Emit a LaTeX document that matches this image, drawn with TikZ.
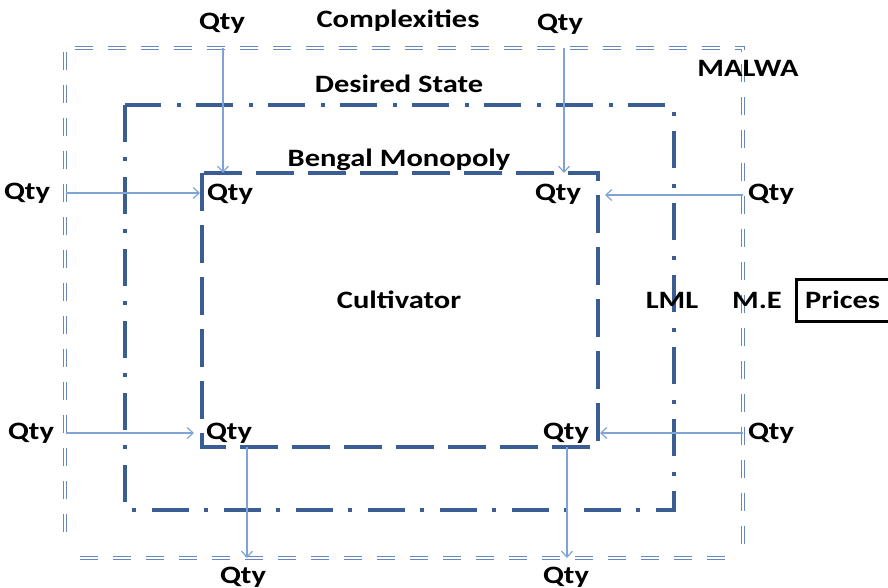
\documentclass[tikz,border=0pt]{standalone}
\usepackage{fontspec}
\setmainfont[FakeStretch=1.22]{Carlito}
\usetikzlibrary{arrows.meta}
\definecolor{darkb}{HTML}{3A5E94}
\definecolor{lightb}{HTML}{7FA3D6}
\definecolor{outerb}{HTML}{6788BE}
\tikzset{
  lbl/.style={font=\fontsize{25}{28}\selectfont\bfseries, inner sep=0pt},
  outerline/.style={draw=outerb, line width=1.3pt},
  midbox/.style={draw=darkb, line width=3.8pt, dash pattern=on 37pt off 15pt on 4pt off 16pt},
  innerbox/.style={draw=darkb, line width=3.8pt, dash pattern=on 38pt off 14pt},
  flow/.style={draw=lightb, line width=1.2pt, -{Straight Barb[length=6pt,width=11pt,line width=1.2pt]}},
  pricebox/.style={draw=black, line width=3pt, minimum width=100pt, minimum height=42pt, anchor=west}
}
\begin{document}
\begin{tikzpicture}[x=1pt,y=-1pt]
\useasboundingbox (0,0) rectangle (888,588);
% outer double dashed box (MALWA), dashes drawn one by one
\foreach \x in {75,108,...,720} {
  \draw[outerline] (\x,46.4) -- ++(18,0);
  \draw[outerline] (\x,49.6) -- ++(18,0);
}
\draw[outerline] (735,46.4) -- (744.6,46.4) -- (744.6,50);
\draw[outerline] (735,49.6) -- (741.4,49.6) -- (741.4,52);
\foreach \x in {80,113,...,720} {
  \draw[outerline] (\x,556.4) -- ++(18,0);
  \draw[outerline] (\x,559.6) -- ++(18,0);
}
\foreach \y in {52,85,...,540} {
  \draw[outerline] (63.4,\y) -- ++(0,18);
  \draw[outerline] (66.6,\y) -- ++(0,18);
}
\foreach \y in {64,97,...,545} {
  \draw[outerline] (741.4,\y) -- ++(0,18);
  \draw[outerline] (744.6,\y) -- ++(0,18);
}
% middle and inner boxes
\draw[midbox] (125,105) rectangle (674,510);
\draw[innerbox] (202,173) rectangle (598,447);
% coordinates on box edges
\coordinate (oT1) at (223,48);
\coordinate (oT2) at (564,48);
\coordinate (iT1) at (223,173);
\coordinate (iT2) at (564,173);
\coordinate (oL1) at (66,193);
\coordinate (iL1) at (200,193);
\coordinate (oR1) at (743,195);
\coordinate (iR1) at (605,195);
\coordinate (oL2) at (66,433);
\coordinate (iL2) at (194,433);
\coordinate (oR2) at (743,433);
\coordinate (iR2) at (600,433);
\coordinate (iB1) at (247,447);
\coordinate (oB1) at (247,558);
\coordinate (iB2) at (567,447);
\coordinate (oB2) at (567,558);
% arrows
\draw[flow] (oT1) -- (iT1);
\draw[flow] (oT2) -- (iT2);
\draw[flow] (oL1) -- (iL1);
\draw[flow] (oR1) -- (iR1);
\draw[flow] (oL2) -- (iL2);
\draw[flow] (oR2) -- (iR2);
\draw[flow] (iB1) -- (oB1);
\draw[flow] (iB2) -- (oB2);
% labels
\node[lbl] (complex) at (398,21) {Complexities};
\node[lbl] (malwa) at (748,68) {MALWA};
\node[lbl] (desired) at (399,84) {Desired State};
\node[lbl] (bengal) at (399,160) {Bengal Monopoly};
\node[lbl] (cult) at (399,300) {Cultivator};
\node[lbl] (lml) at (672,300) {LML};
\node[lbl] (me) at (757,300) {M.E};
\node[pricebox] (prices) at (795,300) {};
\node[lbl, anchor=west] (pricestxt) at (805,300) {Prices};
\node[lbl] (qT1) at (222,23) {Qty};
\node[lbl] (qT2) at (560,24) {Qty};
\node[lbl] (qL1) at (27,193) {Qty};
\node[lbl] (qR1) at (771,194) {Qty};
\node[lbl] (qL2) at (31,433) {Qty};
\node[lbl] (qR2) at (771,433) {Qty};
\node[lbl] (qB1) at (243,577) {Qty};
\node[lbl] (qB2) at (566,577) {Qty};
\node[lbl] (qI1) at (230,194) {Qty};
\node[lbl] (qI2) at (558,194) {Qty};
\node[lbl] (qI3) at (229,433) {Qty};
\node[lbl] (qI4) at (566,433) {Qty};
\end{tikzpicture}
\end{document}
